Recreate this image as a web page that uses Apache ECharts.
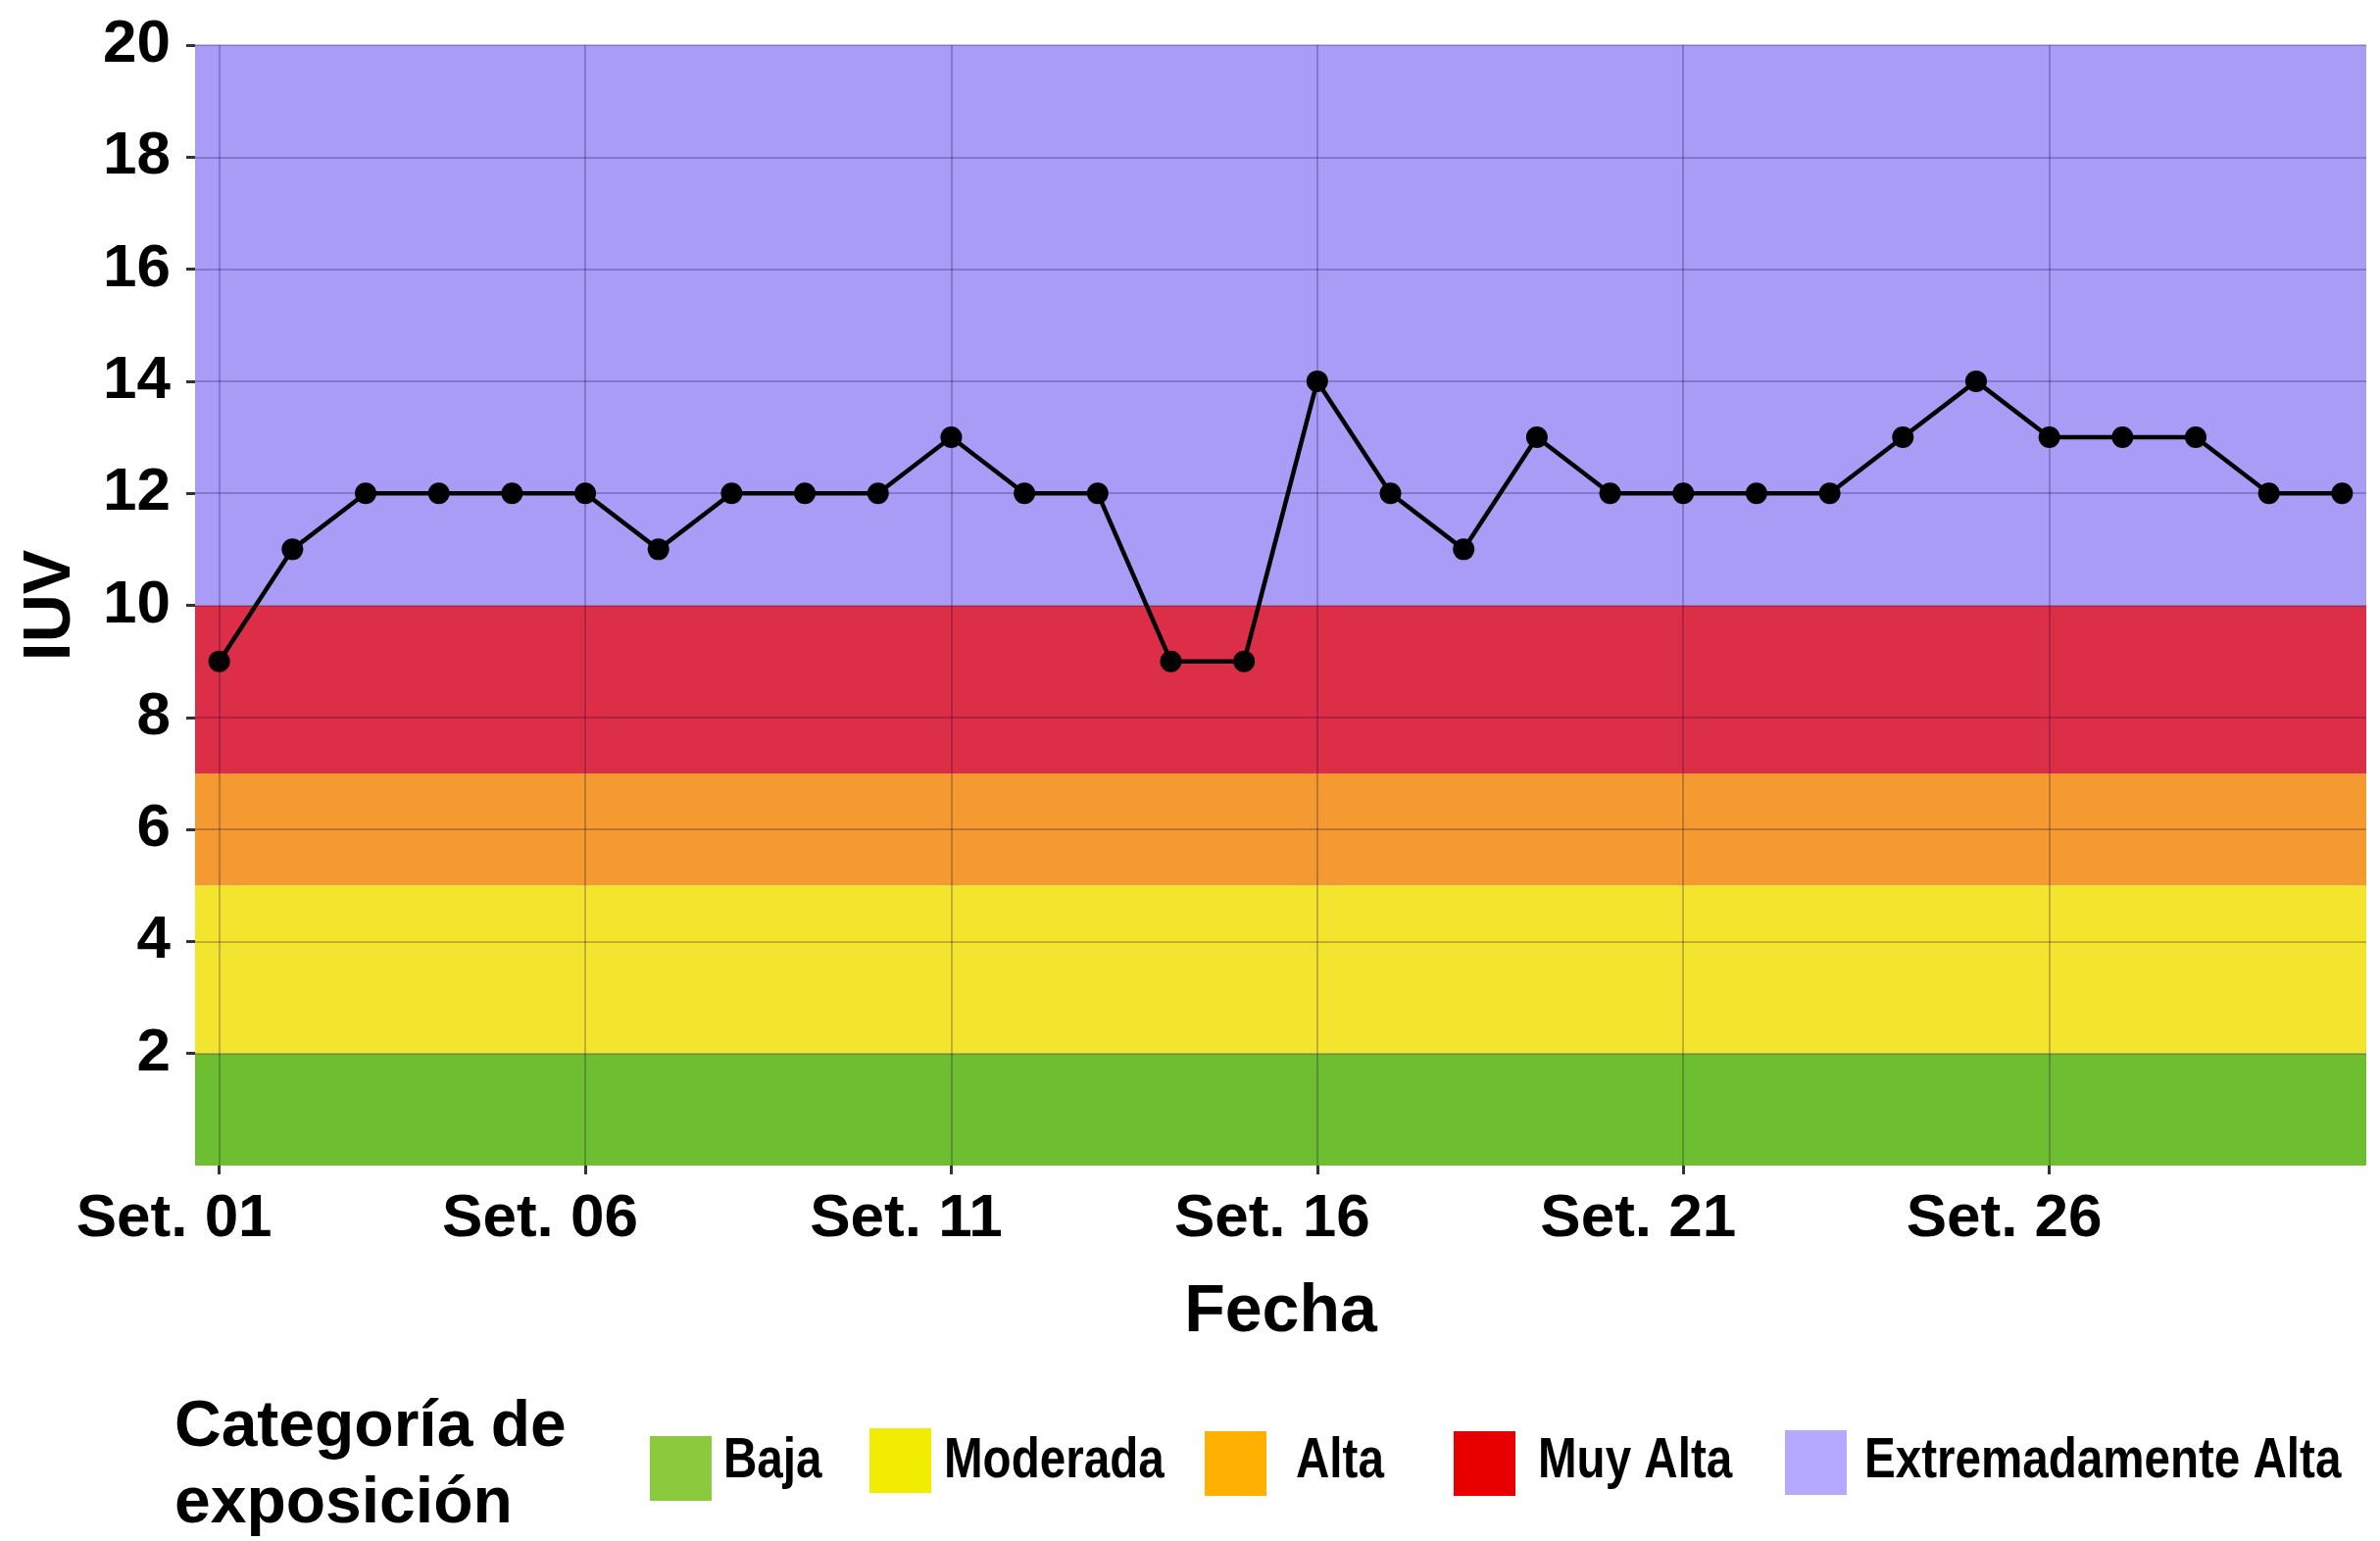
<!DOCTYPE html>
<html>
<head>
<meta charset="utf-8">
<script src="https://cdn.jsdelivr.net/npm/echarts@6/dist/echarts.min.js"></script>
<style>
html,body{margin:0;padding:0;background:#fff;}
#main{width:2428px;height:1572px;}
</style>
</head>
<body>
<div id="main"></div>
<script>
// datos IUV septiembre
var days=[1,2,3,4,5,6,7,8,9,10,11,12,13,14,15,16,17,18,19,20,21,22,23,24,25,26,27,28,29,30];
var iuv=[9,11,12,12,12,12,11,12,12,12,13,12,12,9,9,14,12,11,13,12,12,12,12,13,14,13,13,13,12,12];
var xTickDays=[1,6,11,16,21,26];
var yTicks=[2,4,6,8,10,12,14,16,18,20];

// categorias de exposicion
var bandNames=['Baja','Moderada','Alta','Muy Alta','Extremadamente Alta'];
var bandLow=[0,2,5,7,10];
var bandHigh=[2,5,7,10,20];
var bandColors=['#6dbe30','#f3e52e','#f49a30','#dd2e47','#a89cf7'];
var legendColors=['#8bc93d','#f2ec00','#ffb000','#e80000','#b4a8ff'];

var legendLeft=[663,887,1229,1483,1821];
var legendTop=[1465,1457,1460,1460,1459];
var legendTextLeft=[738,963,1322,1569,1902];
var legendTextMid=1491;

var myChart=echarts.init(document.getElementById('main'));

var seriesList=[];
var legendList=[];
var graphicList=[];
for(var i=0;i<bandNames.length;i++){
    (function(idx){
        seriesList.push({
            name:bandNames[idx],
            type:'custom',
            z:1,
            silent:true,
            itemStyle:{color:legendColors[idx]},
            data:[[bandLow[idx],bandHigh[idx]]],
            encode:{y:[0,1]},
            renderItem:function(params,api){
                var cs=params.coordSys;
                var yTop=api.coord([1,api.value(1)])[1];
                var yBot=api.coord([1,api.value(0)])[1];
                return {
                    type:'rect',
                    shape:{x:cs.x,y:yTop,width:cs.width,height:yBot-yTop},
                    style:{fill:bandColors[idx]}
                };
            }
        });
        legendList.push({
            data:[bandNames[idx]],
            left:legendLeft[idx],
            top:legendTop[idx],
            padding:0,
            icon:'rect',
            itemWidth:63,
            itemHeight:66,
            selectedMode:false,
            formatter:function(){return '';}
        });
        // texto de leyenda algo estrecho como en el original
        graphicList.push({
            type:'text',
            x:legendTextLeft[idx],
            y:legendTextMid,
            scaleX:0.82,
            silent:true,
            style:{
                text:bandNames[idx],
                fontFamily:"'Liberation Sans',Arial,sans-serif",
                fontWeight:'bold',
                fontSize:58,
                fill:'#000',
                textAlign:'left',
                textVerticalAlign:'middle'
            }
        });
    })(i);
}

var lineData=[];
for(var j=0;j<days.length;j++){
    lineData.push([days[j],iuv[j]]);
}
seriesList.push({
    name:'IUV',
    type:'line',
    z:5,
    data:lineData,
    symbol:'circle',
    symbolSize:22,
    itemStyle:{color:'#000'},
    lineStyle:{color:'#000',width:4.5}
});

function pad(n){return n<10?'0'+n:''+n;}

var option={
    animation:false,
    backgroundColor:'#fff',
    textStyle:{fontFamily:"'Liberation Sans',Arial,sans-serif"},
    title:{
        text:'Categoría de\nexposición',
        left:178,
        top:1418,
        padding:0,
        textStyle:{
            fontFamily:"'Liberation Sans',Arial,sans-serif",
            fontWeight:'bold',
            fontSize:66,
            lineHeight:78,
            color:'#000'
        }
    },
    legend:legendList,
    graphic:graphicList,
    grid:{left:199,right:14,top:46,bottom:383,containLabel:false},
    xAxis:{
        type:'value',
        min:0.67,
        max:30.33,
        z:3,
        name:'Fecha',
        nameLocation:'middle',
        nameGap:116,
        nameTextStyle:{fontWeight:'bold',fontSize:68,color:'#000'},
        axisLine:{show:false},
        axisTick:{show:true,length:9,customValues:xTickDays,lineStyle:{color:'#333',width:3}},
        axisLabel:{
            customValues:xTickDays,
            margin:24,
            padding:[0,92,0,0],
            fontWeight:'bold',
            fontSize:62,
            color:'#000',
            formatter:function(v){return 'Set. '+pad(Math.round(v));}
        },
        splitLine:{show:true,lineStyle:{color:'rgba(20,0,60,0.24)',width:2}}
    },
    yAxis:{
        type:'value',
        min:0,
        max:20,
        z:3,
        name:'IUV',
        nameLocation:'middle',
        nameRotate:90,
        nameGap:113,
        nameTextStyle:{fontWeight:'bold',fontSize:68,color:'#000'},
        axisLine:{show:false},
        axisTick:{show:true,length:9,customValues:yTicks,lineStyle:{color:'#333',width:3}},
        axisLabel:{
            customValues:yTicks,
            margin:25,
            fontWeight:'bold',
            fontSize:62,
            color:'#000'
        },
        splitLine:{show:true,lineStyle:{color:'rgba(20,0,60,0.24)',width:2}}
    },
    series:seriesList
};
myChart.setOption(option);
</script>
</body>
</html>
